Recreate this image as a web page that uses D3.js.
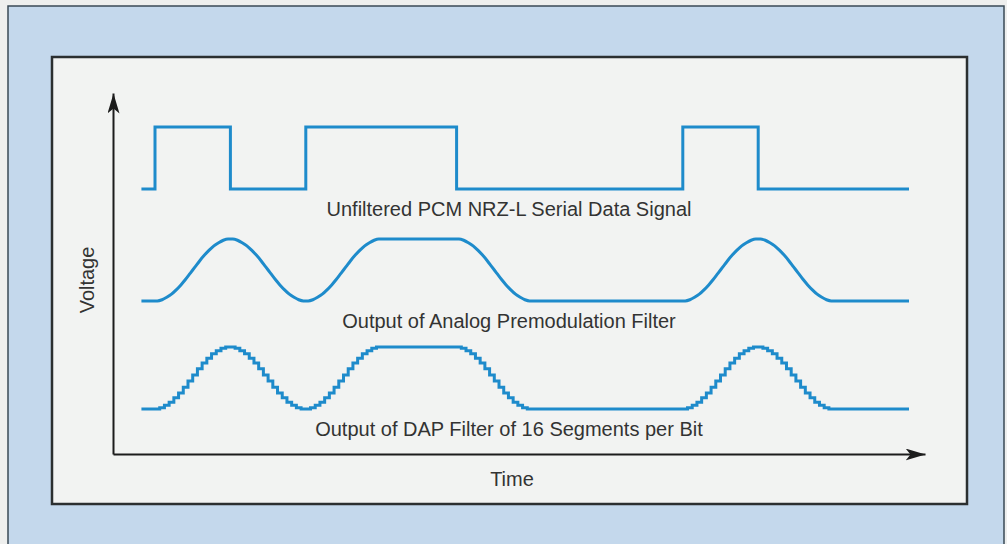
<!DOCTYPE html>
<html>
<head>
<meta charset="utf-8">
<script src="https://cdn.jsdelivr.net/npm/d3@7"></script>
<style>
  html, body { margin: 0; padding: 0; background: #eeefee; }
  svg { display: block; }
  text { font-family: "Liberation Sans", Arial, Helvetica, sans-serif; fill: #333333; }
</style>
</head>
<body>
<svg id="chart" width="1007" height="544"></svg>
<script>
// NRZ-L serial data bits, one per bit period
const bits = [1, 0, 1, 1, 0, 0, 0, 1, 0, 0];
// Level held before the first bit period
const initialLevel = 0;
// Filter transition shape over one bit period, sampled in 16 segments (0 -> 1)
const edgeLevels = [0.00, 0.02, 0.06, 0.11, 0.18, 0.26, 0.35, 0.45,
                    0.55, 0.65, 0.74, 0.82, 0.89, 0.94, 0.98, 1.00];
// Time span drawn, in bit periods
const timeStart = -0.18;
const timeEnd = 10;
// Trace captions
const traceLabels = [
  "Unfiltered PCM NRZ-L Serial Data Signal",
  "Output of Analog Premodulation Filter",
  "Output of DAP Filter of 16 Segments per Bit"
];
const axisLabels = { x: "Time", y: "Voltage" };

const svg = d3.select("#chart");
const blue = "#1e8bcb";

// Background card and white panel
svg.append("rect").attr("x", 8).attr("y", 6).attr("width", 996).attr("height", 560)
  .attr("fill", "#c4d8ec").attr("stroke", "#3a4a55").attr("stroke-width", 1.5);
svg.append("rect").attr("x", 52).attr("y", 57).attr("width", 915).attr("height", 447)
  .attr("fill", "#f2f3f2").attr("stroke", "#2b2f30").attr("stroke-width", 2.5);

// Scales
const x = d3.scaleLinear().domain([0, 10]).range([155, 909]);
const traceBase = [189, 301, 409];
const amp = 62;
const yFor = i => d3.scaleLinear().domain([0, 1]).range([traceBase[i], traceBase[i] - amp]);

// Square wave points (step after)
const squarePts = [{ t: timeStart, v: initialLevel }];
bits.forEach((b, k) => squarePts.push({ t: k, v: b }));
squarePts.push({ t: timeEnd, v: bits[bits.length - 1] });

// Filter output: each bit period moves from the previous bit level to the current one
const nSeg = edgeLevels.length;
const dapPts = [{ t: timeStart, v: initialLevel }];
const analogPts = [{ t: timeStart, v: initialLevel }, { t: 0, v: initialLevel }];
bits.forEach((b, k) => {
  const prev = k === 0 ? initialLevel : bits[k - 1];
  edgeLevels.forEach((e, j) => {
    const v = prev + (b - prev) * e;
    dapPts.push({ t: k + j / nSeg, v });              // held level per segment
    analogPts.push({ t: k + (j + 0.5) / nSeg, v });   // smooth analog through segment centres
  });
  analogPts.push({ t: k + 1, v: b });
});
dapPts.push({ t: timeEnd, v: bits[bits.length - 1] });

function drawTrace(pts, i, curve) {
  const y = yFor(i);
  const line = d3.line().x(d => x(d.t)).y(d => y(d.v)).curve(curve);
  svg.append("path").datum(pts).attr("d", line)
    .attr("fill", "none").attr("stroke", blue).attr("stroke-width", 3)
    .attr("stroke-linejoin", "miter").attr("stroke-linecap", "butt");
}
drawTrace(squarePts, 0, d3.curveStepAfter);
drawTrace(analogPts, 1, d3.curveMonotoneX);
drawTrace(dapPts, 2, d3.curveStepAfter);

// Trace captions
const labelBase = [216, 328, 436];
traceLabels.forEach((t, i) => {
  svg.append("text").attr("x", 509).attr("y", labelBase[i])
    .attr("text-anchor", "middle").attr("font-size", 20).text(t);
});

// Axes with arrowheads
const defs = svg.append("defs");
defs.append("marker").attr("id", "arrow").attr("viewBox", "0 0 20 12")
  .attr("refX", 20).attr("refY", 6).attr("markerWidth", 20).attr("markerHeight", 12)
  .attr("markerUnits", "userSpaceOnUse").attr("orient", "auto")
  .append("path").attr("d", "M0,0 L20,6 L0,12 L5,6 Z").attr("fill", "#1c1c1c");

const xAxisScale = d3.scaleLinear().domain([0, 1]).range([113, 925]);
const yAxisScale = d3.scaleLinear().domain([0, 1]).range([454, 93]);
const gx = svg.append("g").attr("transform", "translate(0,454)")
  .call(d3.axisBottom(xAxisScale).tickValues([]).tickSizeOuter(0));
const gy = svg.append("g").attr("transform", "translate(113,0)")
  .call(d3.axisLeft(yAxisScale).tickValues([]).tickSizeOuter(0));
[gx, gy].forEach(g => g.select(".domain")
  .attr("stroke", "#1c1c1c").attr("stroke-width", 2).attr("marker-end", "url(#arrow)"));

svg.append("text").attr("x", 512).attr("y", 486).attr("text-anchor", "middle")
  .attr("font-size", 20).text(axisLabels.x);
svg.append("text").attr("transform", "translate(94,280) rotate(-90)")
  .attr("text-anchor", "middle").attr("font-size", 20).text(axisLabels.y);
</script>
</body>
</html>
